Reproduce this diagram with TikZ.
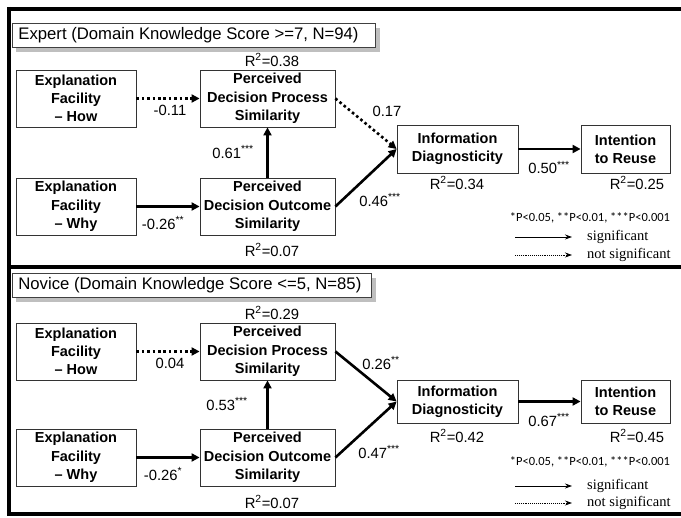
\documentclass[tikz,border=0pt]{standalone}
\usepackage{fontspec}
\setmainfont{Liberation Sans}
\newfontfamily\serifrm{Liberation Serif}
\newfontfamily\calib{Carlito}
\usetikzlibrary{arrows.meta}
\begin{document}
\begin{tikzpicture}[x=1pt,y=-1pt,
  frame/.style={line width=4pt,black},
  nbox/.style={draw=black!80,line width=0.8pt,align=center,inner sep=0pt,
    font=\bfseries\fontsize{14.5}{18.3}\selectfont},
  hdr/.style={draw=black!75,line width=0.8pt,fill=white,anchor=north west,inner ysep=0pt,
    inner xsep=6pt,minimum height=24pt,font=\fontsize{16.7}{18}\selectfont},
  shadowbox/.style={fill=black!25,draw=none},
  lbl/.style={inner sep=0pt,font=\fontsize{14.8}{16}\selectfont},
  sig/.style={line width=2.6pt,-{Triangle[length=8pt,width=8pt]}},
  nsig/.style={sig,dash pattern=on 2.6pt off 2.8pt},
  legsig/.style={line width=0.8pt,-{Stealth[length=7pt,width=5pt]}},
  legns/.style={legsig,dash pattern=on 0.8pt off 1.1pt},
  legtxt/.style={inner sep=0pt,anchor=west,font=\serifrm\fontsize{14.5}{16}\selectfont},
  ptxt/.style={inner sep=0pt,font=\calib\fontsize{12.5}{14}\selectfont}]
\useasboundingbox (0,0) rectangle (681,518);
% frame
\draw[frame] (7,9) -- (681,9);
\draw[frame] (8.8,7) -- (8.8,516.5);
\draw[frame] (7,267) -- (681,267);
\draw[frame] (7,514.5) -- (681,514.5);

% ================= Expert =================
\fill[shadowbox] (16,28) rectangle (380,52);
\node[hdr] (ehdr) at (12,23) {\makebox[351pt][l]{Expert (Domain Knowledge Score >=7, N=94)}};

\node[nbox,minimum width=120pt,minimum height=57pt] (eh) at (76,98.5) {Explanation\\Facility\\– How};
\node[nbox,minimum width=135pt,minimum height=57pt] (ep) at (267.5,98.5) {Perceived\\Decision Process\\Similarity};
\node[nbox,minimum width=120pt,minimum height=57pt] (ew) at (76,206.5) {Explanation\\Facility\\– Why};
\node[nbox,minimum width=135pt,minimum height=57pt] (eo) at (267.5,206.5) {Perceived\\Decision Outcome\\Similarity};
\node[nbox,minimum width=121pt,minimum height=48pt] (ei) at (457.5,149) {Information\\Diagnosticity};
\node[nbox,minimum width=89pt,minimum height=48pt] (er) at (625.5,149) {Intention\\to Reuse};

\node[lbl] (epr) at (272,60) {R\textsuperscript{2}=0.38};
\node[lbl] (eor) at (272,250) {R\textsuperscript{2}=0.07};
\node[lbl] (eir) at (457,183) {R\textsuperscript{2}=0.34};
\node[lbl] (err) at (637,183) {R\textsuperscript{2}=0.25};

\draw[nsig] (eh.east) -- (ep.west);
\draw[sig] (ew.east) -- (eo.west);
\draw[sig] (eo.north) -- (ep.south);
\draw[nsig] (ep.east) -- (ei.west);
\draw[sig] (eo.east) -- (ei.west);
\draw[sig] (ei.east) -- (er.west);

\node[lbl] (el1) at (170,110.5) {-0.11};
\node[lbl] (el2) at (387,111) {0.17};
\node[lbl] (el3) at (233,152) {0.61\textsuperscript{***}};
\node[lbl] (el4) at (163,223) {-0.26\textsuperscript{**}};
\node[lbl] (el5) at (380,200) {0.46\textsuperscript{***}};
\node[lbl] (el6) at (549,167.5) {0.50\textsuperscript{***}};

\node[ptxt] (ep1) at (590,218) {*P<0.05, **P<0.01, ***P<0.001};
\coordinate (es1) at (515,237); \coordinate (es2) at (572,237);
\coordinate (en1) at (515,255); \coordinate (en2) at (572,255);
\draw[legsig] (es1) -- (es2);
\draw[legns] (en1) -- (en2);
\node[legtxt] (est) at (587,237) {significant};
\node[legtxt] (ent) at (587,255) {not significant};

% ================= Novice =================
\fill[shadowbox] (16,278) rectangle (376,302);
\node[hdr] (nhdr) at (12,273) {\makebox[347pt][l]{Novice (Domain Knowledge Score <=5, N=85)}};

\node[nbox,minimum width=120pt,minimum height=57pt] (nh) at (76,351.5) {Explanation\\Facility\\– How};
\node[nbox,minimum width=135pt,minimum height=57pt] (np) at (267.5,351.5) {Perceived\\Decision Process\\Similarity};
\node[nbox,minimum width=120pt,minimum height=57pt] (nw) at (76,457.5) {Explanation\\Facility\\– Why};
\node[nbox,minimum width=135pt,minimum height=57pt] (no) at (267.5,457.5) {Perceived\\Decision Outcome\\Similarity};
\node[nbox,minimum width=121pt,minimum height=43pt] (ni) at (457.5,401.5) {Information\\Diagnosticity};
\node[nbox,minimum width=89pt,minimum height=43pt] (nr) at (625.5,401.5) {Intention\\to Reuse};

\node[lbl] (npr) at (272,313) {R\textsuperscript{2}=0.29};
\node[lbl] (nor) at (272,502) {R\textsuperscript{2}=0.07};
\node[lbl] (nir) at (457,436) {R\textsuperscript{2}=0.42};
\node[lbl] (nrr) at (637,436) {R\textsuperscript{2}=0.45};

\draw[nsig] (nh.east) -- (np.west);
\draw[sig] (nw.east) -- (no.west);
\draw[sig] (no.north) -- (np.south);
\draw[sig] (np.east) -- (ni.west);
\draw[sig] (no.east) -- (ni.west);
\draw[sig] (ni.east) -- (nr.west);

\node[lbl] (nl1) at (170,363) {0.04};
\node[lbl] (nl2) at (381,363) {0.26\textsuperscript{**}};
\node[lbl] (nl3) at (227,404) {0.53\textsuperscript{***}};
\node[lbl] (nl4) at (163,474) {-0.26\textsuperscript{*}};
\node[lbl] (nl5) at (379,452) {0.47\textsuperscript{***}};
\node[lbl] (nl6) at (549,420) {0.67\textsuperscript{***}};

\node[ptxt] (np1) at (590,462) {*P<0.05, **P<0.01, ***P<0.001};
\coordinate (ns1) at (515,486); \coordinate (ns2) at (572,486);
\coordinate (nn1) at (515,503); \coordinate (nn2) at (572,503);
\draw[legsig] (ns1) -- (ns2);
\draw[legns] (nn1) -- (nn2);
\node[legtxt] (nst) at (587,486) {significant};
\node[legtxt] (nnt) at (587,503) {not significant};
\end{tikzpicture}
\end{document}
